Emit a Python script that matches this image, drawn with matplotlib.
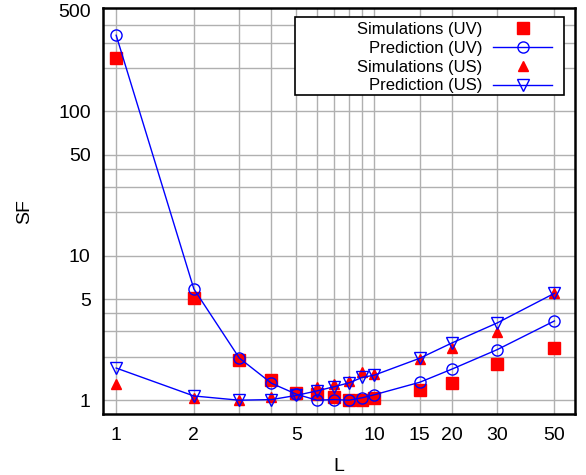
import matplotlib
matplotlib.use("Agg")
import matplotlib.pyplot as plt
from matplotlib.patches import Rectangle
from matplotlib.ticker import FixedLocator, FixedFormatter, NullLocator

plt.rcParams['font.family'] = ['Liberation Sans', 'DejaVu Sans']

# Data
L = [1, 2, 3, 4, 5, 6, 7, 8, 9, 10, 15, 20, 30, 50]
sim_uv = [233, 5.1, 1.9, 1.37, 1.12, 1.1, 1.05, 1.0, 1.0, 1.04, 1.17, 1.31, 1.78, 2.3]
pred_uv = [337, 5.9, 1.96, 1.31, 1.1, 1.0, 1.01, 1.0, 1.04, 1.09, 1.33, 1.64, 2.24, 3.54]
sim_us = [1.29, 1.03, 1.0, 1.06, 1.11, 1.23, 1.29, 1.35, 1.57, 1.52, 1.92, 2.3, 2.97, 5.5]
pred_us = [1.67, 1.07, 1.0, 1.01, 1.08, 1.16, 1.24, 1.32, 1.44, 1.49, 1.95, 2.49, 3.43, 5.5]

xticks = [1, 2, 5, 10, 15, 20, 30, 50]
yticks = [1, 5, 10, 50, 100, 500]
xgrid = [1, 2, 3, 4, 5, 6, 7, 8, 9, 10, 15, 20, 30, 50]
ygrid = [1, 2, 3, 4, 5, 10, 20, 30, 40, 50, 100, 200, 300, 400]

fig = plt.figure(figsize=(5.86, 4.75), dpi=100)
ax = fig.add_axes([0.176, 0.128, 0.805, 0.855])
ax.set_xscale('log')
ax.set_yscale('log')

# grid lines
for g in xgrid:
    ax.axvline(g, color='#b0b0b0', lw=1.0, zorder=0)
for g in ygrid:
    ax.axhline(g, color='#b0b0b0', lw=1.0, zorder=0)

ax.plot(L, sim_uv, 's', color='red', ms=8, mec='red', label='Simulations (UV)', zorder=3)
ax.plot(L, pred_uv, '-o', color='blue', lw=1, ms=8, mfc='none', mec='blue', mew=1,
        label='Prediction (UV)', zorder=4)
ax.plot(L, sim_us, '^', color='red', ms=7, mec='red', label='Simulations (US)', zorder=3)
ax.plot(L, pred_us, '-v', color='blue', lw=1, ms=8, mfc='none', mec='blue', mew=1,
        label='Prediction (US)', zorder=4)

ax.set_xlim(0.89, 60)
ax.set_ylim(0.8, 520)

ax.xaxis.set_major_locator(FixedLocator(xticks))
ax.xaxis.set_major_formatter(FixedFormatter([str(t) for t in xticks]))
ax.xaxis.set_minor_locator(NullLocator())
ax.yaxis.set_major_locator(FixedLocator(yticks))
ax.yaxis.set_major_formatter(FixedFormatter([str(t) for t in yticks]))
ax.yaxis.set_minor_locator(NullLocator())
ax.tick_params(axis='both', length=0, labelsize=14, pad=9)

for s in ax.spines.values():
    s.set_linewidth(1.8)
    s.set_color('black')

ax.set_xlabel('L', fontsize=14, labelpad=10)
ax.set_ylabel('SF', fontsize=14, labelpad=18)

# legend box drawn separately (wide gnuplot style frame)
ax.add_patch(Rectangle((0.407, 0.786), 0.570, 0.192, transform=ax.transAxes,
                       facecolor='white', edgecolor='black', lw=1.2, zorder=5))
leg = ax.legend(loc='upper right', bbox_to_anchor=(0.951, 0.966), markerfirst=False,
                frameon=False, fontsize=12, handlelength=3.5, labelspacing=0.23,
                borderpad=0, borderaxespad=0, handletextpad=0.66)
leg.set_zorder(6)

fig.savefig('out.png', dpi=100)
